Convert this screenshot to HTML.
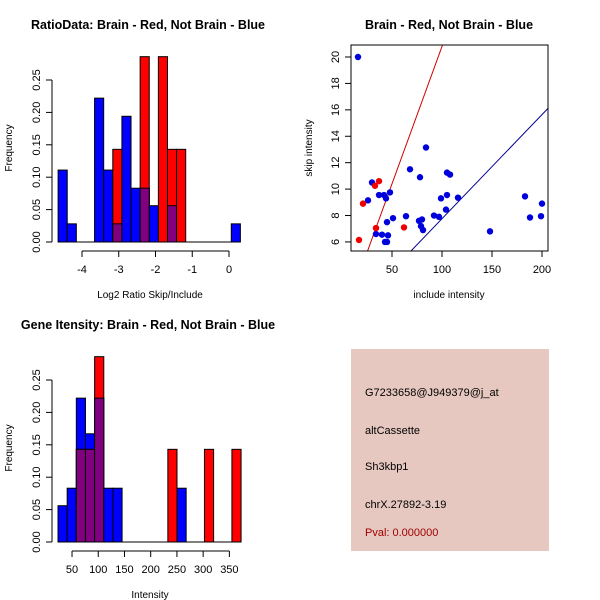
<!DOCTYPE html>
<html><head><meta charset="utf-8"><style>
body{margin:0;background:#fff}
svg{display:block;font-family:"Liberation Sans",sans-serif}
</style></head><body>
<svg id="s" width="600" height="600" viewBox="0 0 600 600">
<rect width="600" height="600" fill="#fff"/>
<g id="p1"></g>
<g id="p2"></g>
<g id="p3"></g>
<g>
<rect x="351" y="349" width="198" height="202" fill="#e6c8c0"/>
<g font-size="11" fill="#000">
<text x="365" y="396">G7233658@J949379@j_at</text>
<text x="365" y="434">altCassette</text>
<text x="365" y="470">Sh3kbp1</text>
<text x="365" y="508">chrX.27892-3.19</text>
<text x="365" y="536" fill="#a00000">Pval: 0.000000</text>
</g></g>
</svg>
<script>
// Histogram 1 data
const h1Start = -4.65, h1Width = 0.248;
const h1Blue = [0.111,0.028,0,0,0.222,0.111,0.028,0.194,0.083,0.083,0.056,0,0.056,0,0,0,0,0,0,0.028];
const h1Red  = [0,0,0,0,0,0,0.143,0,0,0.286,0,0.286,0.143,0.143,0,0,0,0,0,0];
const h1XTicks = [-4,-3,-2,-1,0];
const yTicks = [0,0.05,0.10,0.15,0.20,0.25];
const yTickLabels = ["0.00","0.05","0.10","0.15","0.20","0.25"];
// Histogram 3 data
const h3Start = 23.3, h3Width = 17.45;
const h3Blue = [0.056,0.083,0.222,0.167,0.222,0.083,0.083,0,0,0,0,0,0,0.083,0,0,0,0,0,0];
const h3Red  = [0,0,0.143,0.143,0.286,0,0,0,0,0,0,0,0.143,0,0,0,0.143,0,0,0.143];
const h3XTicks = [50,100,150,200,250,300,350];
// Scatter data
const blueX = [16,30,26,37,42,44,48,34,40,43,45,46,45,51,64,68,78,84,77,80,79,81,92,97,99,105,104,105,108,116,148,183,188,199,200];
const blueY = [20,10.5,9.15,9.55,9.55,9.3,9.75,6.6,6.55,6.0,6.0,6.5,7.5,7.8,7.95,11.5,10.9,13.15,7.6,7.7,7.2,6.9,8.0,7.9,9.3,9.55,8.45,11.25,11.1,9.35,6.8,9.45,7.85,7.95,8.9];
const redX = [17,21,33,37,34,62];
const redY = [6.15,8.9,10.25,10.6,7.05,7.1];
const redLine = [0.0, 0.208];   // intercept, slope
const blueLine = [-0.12, 0.0788];
const sXTicks = [50,100,150,200];
const sYTicks = [6,8,10,12,14,16,18,20];

const NS="http://www.w3.org/2000/svg";
function mk(parent,tag,attrs){const e=document.createElementNS(NS,tag);for(const k in attrs)e.setAttribute(k,attrs[k]);parent.appendChild(e);return e;}

function hist(g,oy,start,w,blue,red,xTicks,xLabels,xmap,title,xlab,tx){
  const ymap=v=>oy+242-v*648;
  const n=blue.length;
  for(let i=0;i<n;i++){
    const x0=xmap(start+i*w),x1=xmap(start+(i+1)*w);
    if(blue[i]>0){const r=mk(g,'rect',{x:x0,y:ymap(blue[i]),width:x1-x0,height:ymap(0)-ymap(blue[i]),fill:'#0000ff',stroke:'#000','stroke-width':1});
      
      }
    if(red[i]>0){const r=mk(g,'rect',{x:x0,y:ymap(red[i]),width:x1-x0,height:ymap(0)-ymap(red[i]),fill:'#ff0000',stroke:'#000','stroke-width':1});
      
      }
    const m=Math.min(blue[i],red[i]);
    if(m>0){const r=mk(g,'rect',{x:x0,y:ymap(m),width:x1-x0,height:ymap(0)-ymap(m),fill:'#800080',stroke:'#000','stroke-width':1});
      
      }
  }
  const base=mk(g,'line',{x1:xmap(start),x2:xmap(start+n*w),y1:ymap(0),y2:ymap(0),stroke:'#000'});
  
  
  mk(g,'line',{x1:52,x2:52,y1:ymap(0),y2:ymap(0.25),stroke:'#000'});
  yTicks.forEach((v,i)=>{mk(g,'line',{x1:46,x2:52,y1:ymap(v),y2:ymap(v),stroke:'#000'});
    const t=mk(g,'text',{x:0,y:0,'font-size':11,'text-anchor':'middle',transform:`translate(40,${ymap(v)}) rotate(-90)`});t.textContent=yTickLabels[i];
    
    });
  const ay=oy+251;
  mk(g,'line',{x1:xmap(xTicks[0]),x2:xmap(xTicks[xTicks.length-1]),y1:ay,y2:ay,stroke:'#000'});
  xTicks.forEach((v,i)=>{mk(g,'line',{x1:xmap(v),x2:xmap(v),y1:ay,y2:ay+6,stroke:'#000'});
    const t=mk(g,'text',{x:xmap(v),y:oy+273,'font-size':11,'text-anchor':'middle'});t.textContent=xLabels[i];
    
    });
  const yl=mk(g,'text',{x:0,y:0,'font-size':10,'text-anchor':'middle',transform:`translate(12,${oy+148}) rotate(-90)`});yl.textContent='Frequency';
  
  
  const xl=mk(g,'text',{x:tx,y:oy+298,'font-size':10,'text-anchor':'middle'});xl.textContent=xlab;
  
  
  const tt=mk(g,'text',{x:148,y:oy+29,'font-size':12.5,'font-weight':'bold','text-anchor':'middle'});tt.textContent=title;
  
  
}
hist(document.getElementById('p1'),0,h1Start,h1Width,h1Blue,h1Red,h1XTicks,h1XTicks.map(String),v=>229+v*36.75,
  'RatioData: Brain - Red, Not Brain - Blue','Log2 Ratio Skip/Include',150);
hist(document.getElementById('p3'),300,h3Start,h3Width,h3Blue,h3Red,h3XTicks,h3XTicks.map(String),v=>45.8+v*0.5245,
  'Gene Itensity: Brain - Red, Not Brain - Blue','Intensity',150);

(function(){
  const g=document.getElementById('p2');
  const X0=351,X1=548,Y0=45,Y1=251;
  const xm=v=>342+v, ym=v=>57+(20-v)*13.21;
  const cp=mk(g,'clipPath',{id:'cp'});mk(cp,'rect',{x:X0,y:Y0,width:X1-X0,height:Y1-Y0});
  const lg=mk(g,'g',{'clip-path':'url(#cp)'});
  const xa=0,xb=260;
  const rl=mk(lg,'line',{x1:xm(xa),y1:ym(redLine[0]+redLine[1]*xa),x2:xm(xb),y2:ym(redLine[0]+redLine[1]*xb),stroke:'#d00000','stroke-width':1});
  
  
  const bl=mk(lg,'line',{x1:xm(xa),y1:ym(blueLine[0]+blueLine[1]*xa),x2:xm(xb),y2:ym(blueLine[0]+blueLine[1]*xb),stroke:'#000090','stroke-width':1});
  
  
  blueX.forEach((x,i)=>{const c=mk(lg,'circle',{cx:xm(x),cy:ym(blueY[i]),r:3.2,fill:'#0000dd'});
    
    });
  redX.forEach((x,i)=>{const c=mk(lg,'circle',{cx:xm(x),cy:ym(redY[i]),r:3.2,fill:'#ee0000'});
    
    });
  const box=mk(g,'rect',{x:X0,y:Y0,width:X1-X0,height:Y1-Y0,fill:'none',stroke:'#000'});
  
  
  sXTicks.forEach(v=>{mk(g,'line',{x1:xm(v),x2:xm(v),y1:Y1,y2:Y1+6,stroke:'#000'});
    const t=mk(g,'text',{x:xm(v),y:273,'font-size':11,'text-anchor':'middle'});t.textContent=String(v);
    
    });
  sYTicks.forEach(v=>{mk(g,'line',{x1:X0-6,x2:X0,y1:ym(v),y2:ym(v),stroke:'#000'});
    const t=mk(g,'text',{x:0,y:0,'font-size':11,'text-anchor':'middle',transform:`translate(339,${ym(v)}) rotate(-90)`});t.textContent=String(v);
    
    });
  const xl=mk(g,'text',{x:449,y:298,'font-size':10,'text-anchor':'middle'});xl.textContent='include intensity';
  
  
  const yl=mk(g,'text',{x:0,y:0,'font-size':10,'text-anchor':'middle',transform:'translate(312,148) rotate(-90)'});yl.textContent='skip intensity';
  
  
  const tt=mk(g,'text',{x:449,y:29,'font-size':12.5,'font-weight':'bold','text-anchor':'middle'});tt.textContent='Brain - Red, Not Brain - Blue';
  
  
})();
</script>
</body></html>
